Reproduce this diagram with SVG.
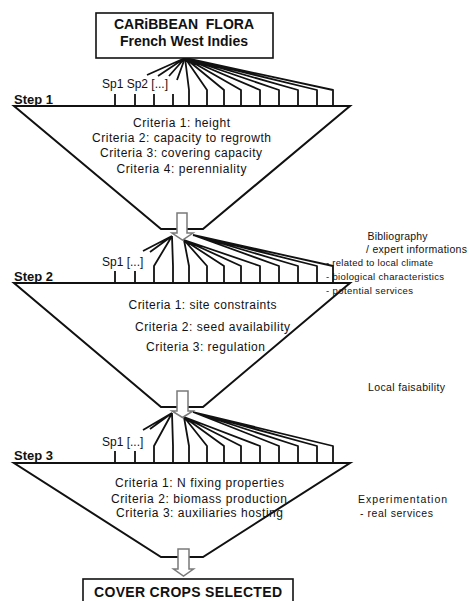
<svg xmlns="http://www.w3.org/2000/svg" width="469" height="601" viewBox="0 0 469 601">
<style>
text{font-family:"Liberation Sans",Arial,sans-serif;fill:#111}
.title{font-size:14px;font-weight:bold;text-anchor:middle}
.step{font-size:13px;font-weight:bold}
.crit{font-size:12px}
.sp{font-size:12px}
.note{font-size:10.5px}
.small{font-size:9.5px}
.box{fill:#fff;stroke:#111;stroke-width:1.6}
.funnel{fill:none;stroke:#111;stroke-width:2}
.arrow{fill:#fff;stroke:#7a7a7a;stroke-width:1.5}
.fan path{fill:none;stroke:#111;stroke-width:1.8;stroke-linejoin:round}
</style>
<rect width="469" height="601" fill="#fff"/>

<g id="steps">
  <g id="step1">
    <path class="funnel" d="M14,106 H350 L203,229 H161 Z"/>
    <text class="step" x="14" y="104">Step 1</text>
    <text class="crit" x="181.5" y="126.5" text-anchor="middle" textLength="97" lengthAdjust="spacing">Criteria 1: height</text>
    <text class="crit" x="181.5" y="141.5" text-anchor="middle" textLength="179" lengthAdjust="spacing">Criteria 2: capacity to regrowth</text>
    <text class="crit" x="181" y="157" text-anchor="middle" textLength="162" lengthAdjust="spacing">Criteria 3: covering capacity</text>
    <text class="crit" x="181.5" y="173" text-anchor="middle" textLength="130" lengthAdjust="spacing">Criteria 4: perenniality</text>
  </g>
  <g id="step2">
    <path class="funnel" d="M14,283 H350 L203,407 H161 Z"/>
    <text class="step" x="14" y="281">Step 2</text>
    <text class="crit" x="128.5" y="309" textLength="148" lengthAdjust="spacing">Criteria 1: site constraints</text>
    <text class="crit" x="135" y="330.5" textLength="155" lengthAdjust="spacing">Criteria 2: seed availability</text>
    <text class="crit" x="146" y="350.5" textLength="119" lengthAdjust="spacing">Criteria 3: regulation</text>
  </g>
  <g id="step3">
    <path class="funnel" d="M14,463 H350 L203,557 H161 Z"/>
    <text class="step" x="14" y="460">Step 3</text>
    <text class="crit" x="199.5" y="486.5" text-anchor="middle" textLength="169" lengthAdjust="spacing">Criteria 1: N fixing properties</text>
    <text class="crit" x="199" y="503" text-anchor="middle" textLength="176" lengthAdjust="spacing">Criteria 2: biomass production</text>
    <text class="crit" x="199.5" y="516.5" text-anchor="middle" textLength="167" lengthAdjust="spacing">Criteria 3: auxiliaries hosting</text>
  </g>
</g>

<g id="connectors" class="fan">
  <!-- step 1 fan -->
  <path d="M185,58 L147,75 M185,58 L158,76 M185,58 L169,76 M185,58 L177,80"/>
  <path d="M185,58 L189,90 V106 M185,58 L207,90 V106 M185,58 L224,90 V106 M185,58 L241,90 V106 M185,58 L260,90 V106 M185,58 L279,90 V106 M185,58 L298,90 V106 M185,58 L317,90 V106 M185,58 L333,90 V106"/>
  <path d="M115,94 V106 M135,94 V106 M154,94 V106 M173,94 V106"/>
  <!-- step 2 fan -->
  <path d="M172,236 L143,251 M172,236 L150,252 M172,236 L154,266 V283 M172,236 L173,266 V283"/>
  <path d="M184,240 L189,266 V283 M184,240 L207,266 V283 M184,240 L224,266 V283 M184,240 L241,266 V283 M184,240 L260,266 V283"/>
  <path d="M193,235 L279,266 V283 M193,235 L298,266 V283 M193,235 L317,266 V283 M193,235 L333,266 V283"/>
  <path d="M115,271 V283 M135,271 V283"/>
  <!-- step 3 fan -->
  <path d="M172,413 L143,430 M172,413 L150,429 M172,413 L154,446 V463 M172,413 L173,446 V463"/>
  <path d="M184,417 L189,446 V463 M184,417 L207,446 V463 M184,417 L224,446 V463 M184,417 L241,446 V463 M184,417 L260,446 V463"/>
  <path d="M193,412 L279,446 V463 M193,412 L298,446 V463 M193,412 L317,446 V463 M193,412 L333,446 V463"/>
  <path d="M115,451 V463 M135,451 V463"/>
</g>

<g id="species-labels">
  <text class="sp" x="102" y="88">Sp1 Sp2 [...]</text>
  <text class="sp" x="102" y="266">Sp1 [...]</text>
  <text class="sp" x="102" y="446">Sp1 [...]</text>
</g>

<g id="arrows">
  <path id="arrow1" class="arrow" d="M177,213 H187 V233 H193 L182.5,240 L172,233 H177 Z"/>
  <path id="arrow2" class="arrow" d="M177,391 H188 V411 H193 L182.5,417.5 L172,411 H177 Z"/>
  <path id="arrow3" class="arrow" d="M178,549 H189 V569 H193.5 L183.5,576 L173.5,569 H178 Z"/>
</g>

<g id="flora">
  <rect class="box" x="96" y="13" width="177" height="45"/>
  <text class="title" x="184" y="28.5" xml:space="preserve">CARiBBEAN  FLORA</text>
  <text class="title" x="184" y="46">French West Indies</text>
</g>

<g id="selected">
  <rect class="box" x="83" y="579" width="210" height="30" stroke-width="2"/>
  <text class="title" x="188" y="597" textLength="188" lengthAdjust="spacing">COVER CROPS SELECTED</text>
</g>

<g id="annotations">
  <text class="note" x="367.5" y="239.5" textLength="60" lengthAdjust="spacing">Bibliography</text>
  <text class="note" x="366" y="253" textLength="101" lengthAdjust="spacing">/ expert informations</text>
  <text class="small" x="326" y="266" textLength="107" lengthAdjust="spacing">- related to local climate</text>
  <text class="small" x="326" y="280" textLength="118" lengthAdjust="spacing">- biological characteristics</text>
  <text class="small" x="326" y="294" textLength="87" lengthAdjust="spacing">- potential services</text>
  <text class="note" x="368" y="391" textLength="77" lengthAdjust="spacing">Local faisability</text>
  <text class="note" x="358" y="503" textLength="89" lengthAdjust="spacing">Experimentation</text>
  <text class="note" x="360" y="516.5" textLength="73" lengthAdjust="spacing">- real services</text>
</g>
</svg>
